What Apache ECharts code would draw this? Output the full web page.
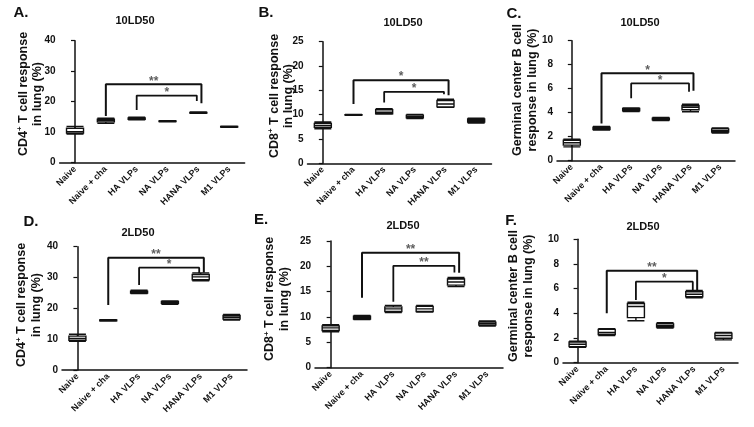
<!DOCTYPE html>
<html>
<head>
<meta charset="utf-8">
<script src="https://cdn.jsdelivr.net/npm/echarts@6/dist/echarts.min.js"></script>
<style>
html,body{margin:0;padding:0;background:#fff;}
#chart{width:754px;height:427px;}
</style>
</head>
<body>
<div id="chart"></div>
<script>
// ---------- DATA ----------
const categories = ['Naive', 'Naive + cha', 'HA VLPs', 'NA VLPs', 'HANA VLPs', 'M1 VLPs'];

// box data: [min, Q1, median, Q3, max]
const boxA = [[9.4, 9.7, 10.2, 11.3, 11.9], [12.9, 13.4, 13.9, 14.3, 14.6], [14.1, 14.2, 14.5, 14.7, 14.9], [13.4, 13.5, 13.6, 13.7, 13.8], [16.2, 16.3, 16.4, 16.5, 16.6], [11.6, 11.7, 11.8, 11.9, 12.0]];
const boxB = [[7.1, 7.4, 7.8, 8.2, 8.5], [9.85, 9.9, 9.95, 10.0, 10.05], [10.1, 10.2, 10.5, 11.0, 11.2], [9.2, 9.35, 9.6, 9.9, 10.05], [11.5, 11.6, 12.2, 12.9, 13.2], [8.3, 8.5, 8.8, 9.1, 9.25]];
const boxC = [[1.15, 1.3, 1.5, 1.7, 1.8], [2.55, 2.6, 2.7, 2.8, 2.85], [4.1, 4.15, 4.25, 4.35, 4.4], [3.35, 3.4, 3.45, 3.55, 3.6], [4.08, 4.25, 4.45, 4.6, 4.7], [2.3, 2.38, 2.5, 2.65, 2.72]];
const boxD = [[9.3, 9.6, 10.2, 11.0, 11.6], [15.9, 16.0, 16.1, 16.2, 16.3], [24.8, 25.0, 25.3, 25.6, 25.9], [21.3, 21.6, 21.9, 22.2, 22.4], [28.9, 29.3, 30.2, 31.0, 31.5], [16.2, 16.5, 17.1, 17.7, 18.0]];
const boxE = [[7.1, 7.35, 7.85, 8.25, 8.5], [9.5, 9.6, 9.9, 10.15, 10.3], [10.9, 11.1, 11.6, 12.0, 12.3], [11.0, 11.1, 11.6, 12.1, 12.3], [16.0, 16.3, 16.9, 17.5, 17.8], [8.2, 8.4, 8.7, 9.0, 9.2]];
const boxF = [[1.25, 1.3, 1.5, 1.68, 1.75], [2.2, 2.28, 2.45, 2.7, 2.75], [3.4, 3.65, 4.55, 4.8, 4.9], [2.8, 2.88, 3.0, 3.15, 3.25], [5.25, 5.35, 5.55, 5.75, 5.85], [1.85, 1.98, 2.2, 2.4, 2.45]];

// significance brackets: [fromCategoryIndex, toCategoryIndex, leftLegEnd, top, rightLegEnd, label]
const sigA = [[1, 4, 15.3, 25.7, 19.5, '**'], [2, 4, 17.3, 22.0, 20.2, '*']];
const sigB = [[1, 4, 12.2, 17.1, 14.0, '*'], [2, 4, 12.5, 14.7, 14.2, '*']];
const sigC = [[1, 4, 3.1, 7.28, 5.83, '*'], [2, 4, 5.2, 6.44, 5.75, '*']];
const sigD = [[1, 4, 21.1, 36.4, 31.6, '**'], [2, 4, 27.6, 33.2, 31.4, '*']];
const sigE = [[1, 4, 13.8, 22.7, 18.75, '**'], [2, 4, 13.0, 20.1, 18.8, '**']];
const sigF = [[1, 4, 4.0, 7.46, 5.9, '**'], [2, 4, 5.08, 6.57, 5.84, '*']];

const yMax = [40, 25, 10, 40, 25, 10];
const yStep = [10, 5, 2, 10, 5, 2];
const panelLetters = ['A.', 'B.', 'C.', 'D.', 'E.', 'F.'];
const panelTitles = ['10LD50', '10LD50', '10LD50', '2LD50', '2LD50', '2LD50'];
const yNames = [
  ['CD4', ' T cell response', 'in lung (%)'],
  ['CD8', ' T cell response', 'in lung (%)'],
  ['Germinal center B cell', '', 'response in lung (%)'],
  ['CD4', ' T cell response', 'in lung (%)'],
  ['CD8', ' T cell response', 'in lung (%)'],
  ['Germinal center B cell', '', 'response in lung (%)']
];

// ---------- LAYOUT ----------
const grids = [
  {left: 59.6, top: 40.7, width: 185, height: 122},
  {left: 307.5, top: 41.7, width: 184, height: 121.6},
  {left: 557, top: 40.7, width: 178, height: 120},
  {left: 62, top: 246.7, width: 185, height: 123.3},
  {left: 315, top: 241, width: 188, height: 126.7},
  {left: 563, top: 239.3, width: 175, height: 123.4}
];
const letterPos = [[21, 13], [266, 13], [514, 14], [31, 222], [261, 220], [511, 221]];
const titlePos = [[135, 21], [403, 23], [640, 23], [138, 233], [403, 226], [643, 227]];
const namePos = [[30.5, 94], [281.5, 96], [525, 90], [29, 305], [277, 299], [521, 296]];
const legOffset = [0.1, -0.05];

const boxes = [boxA, boxB, boxC, boxD, boxE, boxF];
const sigs = [sigA, sigB, sigC, sigD, sigE, sigF];

const FONT = 'Liberation Sans, Arial, sans-serif';
const INK = '#111';

const xAxes = [], yAxes = [], series = [], graphics = [];
grids.forEach((g, i) => {
  xAxes.push({
    type: 'category', gridIndex: i, data: categories,
    axisLine: {lineStyle: {color: INK, width: 1.5}},
    axisTick: {alignWithLabel: true, length: 4, lineStyle: {color: INK, width: 1.2}},
    axisLabel: {rotate: 45, interval: 0, fontSize: 9, fontWeight: 'bold', color: INK, fontFamily: FONT, margin: 5},
    splitLine: {show: false}
  });
  xAxes.push({
    type: 'value', gridIndex: i, min: -0.5, max: 5.5, show: false,
    axisLine: {show: false}, splitLine: {show: false}
  });
  yAxes.push({
    type: 'value', gridIndex: i, min: 0, max: yMax[i], interval: yStep[i],
    axisLine: {show: true, lineStyle: {color: INK, width: 1.5}},
    axisTick: {show: true, length: 4, lineStyle: {color: INK, width: 1.2}},
    axisLabel: {fontSize: 10, fontWeight: 'bold', color: INK, fontFamily: FONT, margin: 4},
    splitLine: {show: false}
  });
  series.push({
    type: 'boxplot', xAxisIndex: 2 * i, yAxisIndex: i,
    data: boxes[i], boxWidth: [17, 17],
    itemStyle: {color: '#fff', borderColor: INK, borderWidth: 1.4},
    emphasis: {disabled: true}
  });
  sigs[i].forEach((s, k) => {
    const x0 = s[0], x1 = s[1] + legOffset[k];
    series.push({
      type: 'line', xAxisIndex: 2 * i + 1, yAxisIndex: i,
      data: [[x0, s[2]], [x0, s[3]], [x1, s[3]], [x1, s[4]]],
      symbol: 'none', lineStyle: {color: INK, width: k === 0 ? 2 : 1.8},
      silent: true
    });
    series.push({
      type: 'scatter', xAxisIndex: 2 * i + 1, yAxisIndex: i,
      data: [[(x0 + x1) / 2, s[3]]], symbolSize: 0, silent: true,
      label: {show: true, position: 'inside', offset: [0, -3], formatter: s[5],
        fontSize: 12, fontWeight: 'bold', color: '#333', fontFamily: FONT}
    });
  });
  graphics.push({
    type: 'text', x: letterPos[i][0], y: letterPos[i][1],
    style: {text: panelLetters[i], font: 'bold 15px ' + FONT, fill: INK, textAlign: 'center', textVerticalAlign: 'middle'}
  });
  graphics.push({
    type: 'text', x: titlePos[i][0], y: titlePos[i][1],
    style: {text: panelTitles[i], font: 'bold 11px ' + FONT, fill: INK, textAlign: 'center', textVerticalAlign: 'middle'}
  });
  const n = yNames[i];
  const hasSup = n[1] !== '';
  const txt = hasSup ? '{a|' + n[0] + '}{s|+}{a|' + n[1] + '}\n{a|' + n[2] + '}' : '{a|' + n[0] + '}\n{a|' + n[2] + '}';
  graphics.push({
    type: 'text', x: namePos[i][0], y: namePos[i][1], rotation: Math.PI / 2,
    style: {
      text: txt, textAlign: 'center', textVerticalAlign: 'middle', fill: INK,
      rich: {
        a: {fontSize: 12.5, fontWeight: 'bold', fontFamily: FONT, color: INK, lineHeight: 14.5},
        s: {fontSize: 8, fontWeight: 'bold', fontFamily: FONT, color: INK, lineHeight: 14.5, verticalAlign: 'top', padding: [0, 0, 6, 0]}
      }
    }
  });
});

const chart = echarts.init(document.getElementById('chart'), null, {renderer: 'canvas'});
chart.setOption({
  animation: false,
  backgroundColor: '#fff',
  grid: grids.map(g => Object.assign({containLabel: false}, g)),
  xAxis: xAxes,
  yAxis: yAxes,
  series: series,
  graphic: graphics
});
</script>
</body>
</html>
